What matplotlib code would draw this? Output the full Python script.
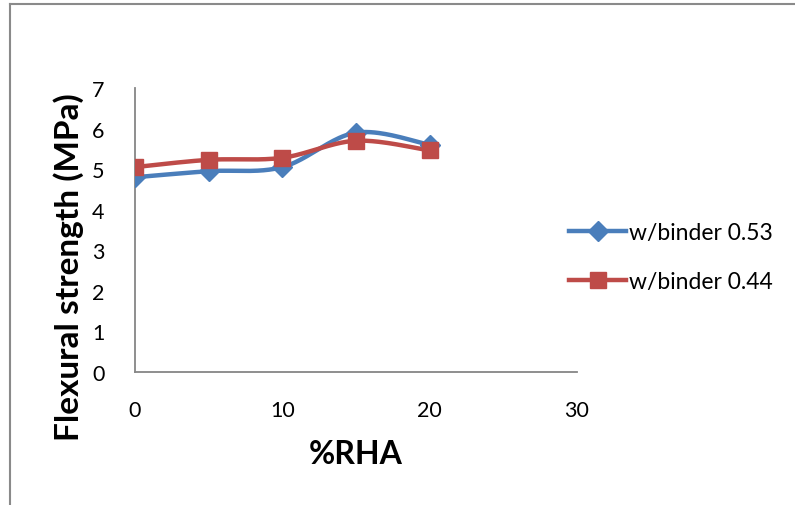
import matplotlib
matplotlib.use("Agg")
import matplotlib.pyplot as plt
from matplotlib.lines import Line2D
import numpy as np

plt.rcParams['font.family'] = ['Lato', 'DejaVu Sans']

rha = [0, 5, 10, 15, 20]
wb053 = [4.8, 4.95, 5.05, 5.9, 5.6]
wb044 = [5.05, 5.23, 5.28, 5.7, 5.46]

BLUE = '#4A7EBB'
RED = '#BE4B48'


def smooth(xs, ys, n=40):
    # Catmull-Rom curve through the points, like a spreadsheet "smoothed line"
    pts = np.column_stack([xs, ys]).astype(float)
    p = np.vstack([pts[0], pts, pts[-1]])
    out = []
    t = np.linspace(0, 1, n)[:, None]
    for i in range(1, len(p) - 2):
        p0, p1, p2, p3 = p[i - 1], p[i], p[i + 1], p[i + 2]
        c1 = p1 + (p2 - p0) / 6
        c2 = p2 - (p3 - p1) / 6
        seg = ((1 - t) ** 3) * p1 + 3 * ((1 - t) ** 2) * t * c1 + 3 * (1 - t) * t ** 2 * c2 + t ** 3 * p2
        out.append(seg)
    out = np.vstack(out)
    return out[:, 0], out[:, 1]


fig = plt.figure(figsize=(7.95, 5.06), dpi=100)
ax = fig.add_axes([0.1698, 0.2628, 0.5560, 0.5613])

for ys, col, mk, ms, lab in [(wb053, BLUE, 'D', 10, 'w/binder 0.53'),
                             (wb044, RED, 's', 12, 'w/binder 0.44')]:
    sx, sy = smooth(rha, ys)
    ax.plot(sx, sy, color=col, lw=3.2, solid_capstyle='round', zorder=3)
    ax.plot(rha, ys, linestyle='none', marker=mk, ms=ms, color=col, zorder=4)

ax.set_xlim(0, 30)
ax.set_ylim(0, 7)
ax.set_xticks([0, 10, 20, 30])
ax.set_yticks(range(8))
ax.tick_params(length=0, labelsize=15.5, pad=22)
ax.tick_params(axis='x', pad=20)
for s in ['top', 'right']:
    ax.spines[s].set_visible(False)
for s in ['left', 'bottom']:
    ax.spines[s].set_color('#868686')
    ax.spines[s].set_linewidth(1.3)

ax.set_xlabel('%RHA', fontsize=23, fontweight='bold', labelpad=14)
# y title sits a little below the axis centre
fig.text(0.086, 0.473, 'Flexural strength (MPa)', rotation=90, fontsize=24,
         fontweight='bold', ha='center', va='center')

handles = [Line2D([], [], color=BLUE, lw=3.2, marker='D', ms=10),
           Line2D([], [], color=RED, lw=3.2, marker='s', ms=12)]
fig.legend(handles, ['w/binder 0.53', 'w/binder 0.44'], loc='center left',
           bbox_to_anchor=(0.69, 0.49), frameon=False, fontsize=16.5,
           handlelength=2.5, handletextpad=0.1, labelspacing=1.2)

# chart frame
fig.add_artist(Line2D([0.012, 0.012], [0, 0.991], color='#8a8a8a', lw=1.5))
fig.add_artist(Line2D([0.012, 1.0], [0.991, 0.991], color='#8a8a8a', lw=1.5))

fig.savefig('out.png', dpi=100)
